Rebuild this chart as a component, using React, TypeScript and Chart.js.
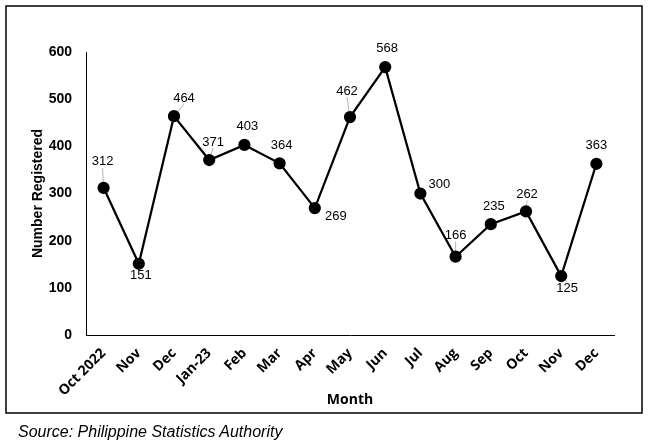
import React, { useEffect, useRef } from "react";
import { Chart, registerables } from "chart.js";

Chart.register(...registerables);

// ---- data ----
const MONTHS = ["Oct 2022", "Nov", "Dec", "Jan-23", "Feb", "Mar", "Apr", "May", "Jun", "Jul", "Aug", "Sep", "Oct", "Nov", "Dec"];
const REGISTERED = [312, 151, 464, 371, 403, 364, 269, 462, 568, 300, 166, 235, 262, 125, 363];
const Y_TICKS = [0, 100, 200, 300, 400, 500, 600];
const X_TITLE = "Month";
const Y_TITLE = "Number Registered";
const SOURCE = "Source: Philippine Statistics Authority";

// ---- label placement (offset of each value label from its point, px) ----
const LABEL_DX = [-1, 2, 10, 4, 3, 2, 21, -3, 2, 19, 0, 3, 1, 6, 0];
const LABEL_DY = [-26, 12, -18, -18, -18, -18, 8, -26, -19, -9, -21, -18, -17, 12, -18];
const LABEL_LEADER = [true, false, true, true, false, false, false, true, false, false, true, false, true, true, false];

const valueLabels = {
  id: "valueLabels",
  beforeDatasetsDraw(chart: any) {
    const ctx = chart.ctx;
    const meta = chart.getDatasetMeta(0);
    ctx.save();
    ctx.strokeStyle = "#b4b4b4";
    ctx.lineWidth = 1;
    meta.data.forEach((pt: any, i: number) => {
      if (!LABEL_LEADER[i]) return;
      const lx = pt.x + LABEL_DX[i];
      const ly = pt.y + LABEL_DY[i];
      const ty = LABEL_DY[i] < 0 ? ly + 6 : ly - 6;
      ctx.beginPath();
      ctx.moveTo(pt.x, pt.y);
      ctx.lineTo(lx, ty);
      ctx.stroke();
    });
    ctx.restore();
  },
  afterDatasetsDraw(chart: any) {
    const ctx = chart.ctx;
    const meta = chart.getDatasetMeta(0);
    const data = chart.data.datasets[0].data;
    ctx.save();
    ctx.fillStyle = "#000";
    ctx.font = "13px 'Liberation Sans', Arial, sans-serif";
    ctx.textAlign = "center";
    ctx.textBaseline = "middle";
    meta.data.forEach((pt: any, i: number) => {
      ctx.fillText(String(data[i]), pt.x + LABEL_DX[i], pt.y + LABEL_DY[i]);
    });
    ctx.restore();
  },
  afterDraw(chart: any) {
    const ctx = chart.ctx;
    ctx.save();
    ctx.strokeStyle = "#000";
    ctx.lineWidth = 1.5;
    ctx.strokeRect(6, 6, 636, 407);
    ctx.restore();
  },
};

export default function App() {
  const ref = useRef<HTMLCanvasElement | null>(null);

  useEffect(() => {
    if (!ref.current) return;
    const chart = new Chart(ref.current, {
      type: "line",
      data: {
        labels: MONTHS,
        datasets: [
          {
            data: REGISTERED,
            borderColor: "#000",
            backgroundColor: "#000",
            borderWidth: 2.25,
            pointRadius: 5,
            pointBackgroundColor: "#000",
            pointBorderColor: "#000",
            tension: 0,
          },
        ],
      },
      options: {
        responsive: false,
        animation: false,
        layout: { padding: { left: 30, top: 52, right: 37, bottom: 36 } },
        plugins: { legend: { display: false }, tooltip: { enabled: false }, title: { display: false } },
        scales: {
          x: {
            type: "category",
            offset: true,
            grid: { display: false, drawTicks: false },
            border: { display: true, color: "#000", width: 1 },
            ticks: {
              color: "#000",
              autoSkip: false,
              maxRotation: 45,
              minRotation: 45,
              padding: 10,
              font: { family: "'Open Sans', sans-serif", size: 14, weight: "bold" },
            },
            title: {
              display: true,
              text: X_TITLE,
              color: "#000",
              padding: 0,
              font: { family: "'Open Sans', sans-serif", size: 14, weight: "bold" },
            },
            afterFit(scale: any) {
              scale.height = 73;
            },
          },
          y: {
            min: 0,
            max: 600,
            grid: { display: false, drawTicks: false },
            border: { display: true, color: "#000", width: 1 },
            afterBuildTicks(scale: any) {
              scale.ticks = Y_TICKS.map((v) => ({ value: v }));
            },
            ticks: {
              color: "#000",
              padding: 14,
              font: { family: "'Liberation Sans', Arial, sans-serif", size: 14, weight: "bold" },
            },
            title: {
              display: true,
              text: Y_TITLE,
              color: "#000",
              padding: 0,
              font: { family: "'Liberation Sans', Arial, sans-serif", size: 14, weight: "bold" },
            },
            afterFit(scale: any) {
              scale.width = 56;
            },
          },
        },
      },
      plugins: [valueLabels],
    });
    return () => chart.destroy();
  }, []);

  return (
    <div style={{ position: "absolute", left: 0, top: 0, width: 651, height: 444, background: "#fff" }}>
      <canvas ref={ref} width={651} height={444} style={{ display: "block" }} />
      <div
        style={{
          position: "absolute",
          left: 18,
          top: 423,
          fontFamily: "'Liberation Sans', Arial, sans-serif",
          fontStyle: "italic",
          fontSize: 16,
          lineHeight: "18px",
          color: "#000",
          whiteSpace: "nowrap",
        }}
      >
        {SOURCE}
      </div>
    </div>
  );
}
